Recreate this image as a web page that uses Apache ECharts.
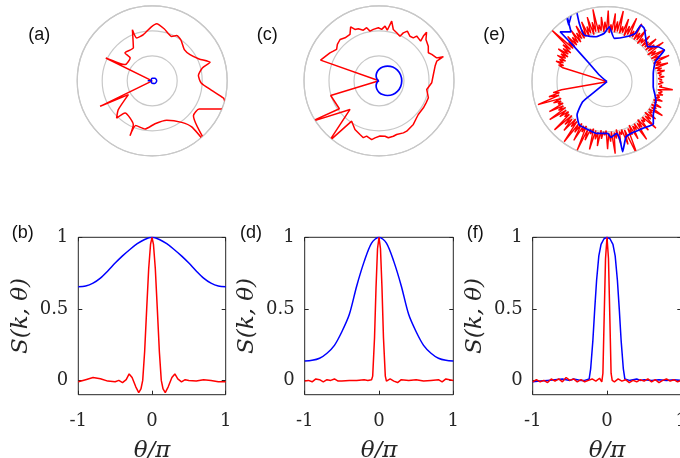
<!DOCTYPE html>
<html><head><meta charset="utf-8">
<script src="https://cdn.jsdelivr.net/npm/echarts@6/dist/echarts.min.js"></script>
<style>html,body{margin:0;padding:0;background:#fff}#c{width:680px;height:458px}</style>
</head><body><div id="c"></div>
<script>
// ---- tick labels / rings ----
const xTicks = [-1, 0, 1];
const yTicks = [0, 0.5, 1];
const ringValues = [1, 2, 3];
const panelLabels = ['(a)', '(b)', '(c)', '(d)', '(e)', '(f)'];

// ---- polar panels: [radius, angle in degrees] ----
const aRed = [[0,-180],[2.32,-153.9],[1.10,-149.9],[1.78,-139.6],[2.06,-133.7],[1.68,-130.2],[1.91,-113.3],[2.37,-112],[1.91,-110.2],[1.95,-98.5],[1.72,-86.2],[1.68,-69.8],[2.04,-54.6],[2.43,-49.4],[3.45,-49.4],[2.16,-40.2],[2.19,-31],[3.0,-22.1],[3.05,-16.9],[2.93,-13.6],[2.41,-9.1],[1.96,-2.5],[1.86,6.4],[2.07,14.3],[2.43,17.7],[2.07,25],[1.84,34.7],[1.79,44.1],[1.99,54.6],[2.06,61.5],[1.94,66.3],[2.13,76.8],[2.29,85.5],[2.15,91.2],[1.88,100.8],[1.82,109.9],[2.19,111.2],[1.52,119.7],[1.56,134.3],[1.27,134],[1.26,149],[2.07,153.8],[0,180]];
const aBlue = [[0.18,-180],[0.03,-179],[0.05,-135],[0.10,-90],[0.15,-45],[0.18,0],[0.15,45],[0.10,90],[0.05,135],[0.03,179],[0.18,180]];
const cRed = [[0,-180],[2.02,-163.1],[1.94,-144.8],[3.22,-149.1],[1.63,-135.3],[3.13,-129.5],[1.95,-124.1],[2.17,-116.3],[2.28,-109.5],[2.36,-105.4],[2.27,-102.6],[2.37,-97.1],[2.29,-94],[2.21,-89],[2.23,-83.8],[2.31,-80.7],[2.29,-75.5],[2.26,-71.8],[2.30,-64.9],[2.30,-61.2],[2.22,-51.8],[2.11,-44.5],[2.07,-40.6],[2.08,-31.3],[2.08,-25.1],[2.09,-19],[1.94,-10.3],[2.11,-2.2],[2.19,6.6],[2.32,14.7],[2.44,18.8],[2.75,20.5],[2.48,21.7],[2.36,26.6],[2.27,29.6],[2.41,35.1],[2.50,41.3],[2.72,45.6],[2.52,45.2],[2.30,43.6],[2.34,49.9],[2.20,51.4],[2.17,55.2],[2.29,60.3],[2.15,63.1],[1.97,64.8],[2.05,69.8],[2.13,74.4],[2.44,78],[2.05,80.7],[2.20,83.7],[2.06,87],[2.12,90.7],[2.07,96.3],[2.02,100.3],[2.18,103.1],[2.12,107.2],[2.24,111.7],[2.27,115.1],[2.44,117.7],[2.19,122],[2.19,128.3],[2.27,133.3],[2.21,138.9],[2.11,143.5],[2.18,147],[2.26,150.3],[2.48,160.5],[0,180]];
const cBlue = [[0,-180],[0.015,-165],[0.06,-150],[0.13,-135],[0.23,-120],[0.34,-105],[0.46,-90],[0.57,-75],[0.68,-60],[0.78,-45],[0.85,-30],[0.895,-15],[0.91,0],[0.895,15],[0.85,30],[0.78,45],[0.68,60],[0.57,75],[0.46,90],[0.34,105],[0.23,120],[0.13,135],[0.06,150],[0.015,165],[0,180]];
const eRed = [[0,-180],[1.85,-170],[2.2,-168.5],[1.95,-167],[2.4,-165.5],[2.0,-164],[2.91,-161.6],[1.95,-160],[2.3,-158.5],[2.0,-157],[2.15,-155.5],[1.95,-154],[2.6,-152.5],[2.0,-151],[2.25,-149.5],[1.95,-148],[2.75,-146.5],[2.0,-145],[2.35,-143.5],[1.95,-142],[2.2,-140.5],[2.0,-139],[2.85,-137.5],[1.95,-136],[2.4,-134.5],[2.05,-133],[2.6,-131.5],[1.95,-130],[2.3,-128.5],[2.0,-127],[2.95,-125.5],[2.05,-124],[2.4,-122.5],[1.95,-121],[2.7,-119.5],[2.0,-118],[2.25,-116.5],[1.95,-115],[3.0,-113.5],[2.05,-112],[2.5,-110.5],[2.0,-109],[2.2,-107.5],[1.95,-106],[2.8,-104.5],[2.0,-103],[2.35,-101.5],[2.05,-100],[2.6,-98.5],[1.95,-97],[2.3,-95.5],[2.0,-94],[2.15,-92.5],[1.95,-91],[2.7,-89.5],[2.05,-88],[2.4,-86.5],[2.0,-85],[2.9,-83.5],[2.05,-82],[2.3,-80.5],[1.95,-79],[2.55,-77.5],[2.05,-76],[2.2,-74.5],[2.0,-73],[2.65,-71.5],[2.05,-70],[3.25,-67.5],[2.05,-66],[2.35,-64.5],[1.95,-63],[2.6,-61.5],[2.05,-60],[2.25,-58.5],[2.0,-57],[2.8,-55.5],[2.05,-54],[2.3,-52.5],[1.95,-51],[2.55,-49.5],[2.05,-48],[2.2,-46.5],[2.0,-45],[2.7,-43.5],[2.05,-42],[2.3,-40.5],[1.95,-39],[2.45,-37.5],[2.05,-36],[2.2,-34.5],[2.0,-33],[2.6,-31.5],[2.05,-30],[2.25,-28.5],[2.0,-27],[2.4,-25.5],[2.05,-24],[2.15,-22.5],[2.0,-21],[2.35,-19.5],[2.05,-18],[2.2,-16.5],[2.05,-15],[2.3,-13.5],[2.1,-12],[2.25,-10.5],[2.05,-9],[2.65,-7],[2.1,-5.5],[2.2,-4],[2.05,-2.5],[2.25,-1],[2.1,0.5],[2.2,2],[2.05,3.5],[2.3,5],[2.1,6.5],[2.2,8],[2.05,9.5],[2.35,11],[2.05,12.5],[2.25,14],[2.0,15.5],[2.55,17],[2.05,18.5],[2.3,20],[2.0,21.5],[2.7,23],[2.05,24.5],[2.35,26],[2.0,27.5],[2.65,29],[2.05,30.5],[2.3,32],[1.95,33.5],[2.75,35],[2.05,36.5],[2.4,38],[2.0,39.5],[2.6,41],[2.05,42.5],[2.3,44],[2.0,45.5],[2.5,47],[2.05,48.5],[2.25,50],[1.95,51.5],[2.6,53],[2.05,54.5],[2.35,56],[2.0,57.5],[2.7,59],[2.05,60.5],[2.3,62],[2.0,63.5],[2.8,65],[2.05,66.5],[2.4,68],[1.95,69.5],[2.65,71],[2.05,72.5],[2.3,74],[2.0,75.5],[2.9,77],[2.05,78.5],[2.45,80],[2.0,81.5],[2.75,83],[2.05,84.5],[2.3,86],[1.95,87.5],[2.85,89],[2.05,90.5],[2.4,92],[2.0,93.5],[2.6,95],[2.05,96.5],[2.3,98],[2.0,99.5],[2.95,101],[2.05,102.5],[2.45,104],[1.95,105.5],[2.7,107],[2.05,108.5],[2.35,110],[1.95,111.5],[2.6,113],[2.0,114.5],[2.3,116],[1.95,117.5],[2.55,119],[2.0,120.5],[2.3,122],[1.9,123.5],[2.5,125],[1.95,126.5],[2.25,128],[1.9,129.5],[2.4,131],[1.9,132.5],[2.2,134],[1.9,135.5],[3.04,137],[1.95,138.5],[2.3,140],[1.85,141.5],[2.2,143],[1.9,144.5],[2.35,146],[1.85,147.5],[2.15,149],[1.9,150.5],[2.25,152],[1.85,153.5],[2.1,155],[1.9,156.5],[2.2,158],[1.85,159.5],[2.05,161],[1.85,162.5],[1.82,164.7],[0,180]];
const eBlue = [[0,-180],[0.74,-140.9],[1.26,-140.6],[1.79,-132],[2.06,-122.6],[2.06,-112.1],[2.11,-102],[2.07,-89.3],[2.23,-85.9],[2.10,-79.4],[2.39,-77.4],[2.87,-77.4],[2.33,-70.9],[2.28,-63.3],[2.35,-52.6],[2.51,-42.4],[2.28,-35.7],[2.09,-20.5],[1.86,-6.2],[1.88,10.2],[2.09,22.5],[2.62,28.9],[2.46,34.6],[2.15,40.7],[2.60,55],[2.64,59],[2.24,59.6],[1.95,67.1],[1.76,80.4],[2.20,87.6],[1.94,93.2],[1.85,103.7],[2.07,115.9],[2.58,115.4],[3.42,112.5],[2.74,124.1],[3.25,120.4],[2.46,125.8],[2.74,133.2],[2.01,133.1],[1.11,134],[0.41,139],[0,180]];

// ---- line panels: [theta/pi, S] ----
const bBlue = [[-1,0.655],[-0.9,0.66],[-0.8,0.68],[-0.7,0.715],[-0.6,0.765],[-0.5,0.82],[-0.4,0.87],[-0.3,0.915],[-0.2,0.955],[-0.1,0.985],[0,1],[0.1,0.985],[0.2,0.955],[0.3,0.915],[0.4,0.87],[0.5,0.82],[0.6,0.765],[0.7,0.715],[0.8,0.68],[0.9,0.66],[1,0.655]];
const bRed = [[-1,-0.01],[-0.9,0.005],[-0.8,0.02],[-0.7,0.012],[-0.6,-0.005],[-0.5,-0.01],[-0.45,0],[-0.4,-0.015],[-0.35,0.005],[-0.31,0.045],[-0.27,0.02],[-0.22,-0.045],[-0.18,-0.085],[-0.15,-0.06],[-0.126,0],[-0.1,0.2],[-0.072,0.5],[-0.045,0.78],[-0.02,0.95],[0,1],[0.02,0.95],[0.045,0.78],[0.072,0.5],[0.1,0.2],[0.126,0],[0.15,-0.06],[0.18,-0.085],[0.22,-0.045],[0.27,0.02],[0.31,0.045],[0.35,0.01],[0.4,-0.01],[0.45,0.005],[0.5,0],[0.6,-0.005],[0.7,0.005],[0.8,0],[0.9,-0.01],[1,-0.01]];
const dBlue = [[-1,0.135],[-0.9,0.14],[-0.8,0.155],[-0.7,0.19],[-0.6,0.245],[-0.5,0.34],[-0.4,0.46],[-0.3,0.66],[-0.2,0.83],[-0.1,0.96],[0,1],[0.1,0.96],[0.2,0.83],[0.3,0.66],[0.4,0.46],[0.5,0.34],[0.6,0.245],[0.7,0.19],[0.8,0.155],[0.9,0.14],[1,0.135]];
const dRed = [[-1,-0.005],[-0.95,0],[-0.9,-0.01],[-0.85,0.01],[-0.8,0.005],[-0.75,-0.01],[-0.7,0.005],[-0.65,0],[-0.6,0.01],[-0.55,-0.005],[-0.5,-0.005],[-0.4,0],[-0.3,0],[-0.2,0.005],[-0.15,0],[-0.1,0.005],[-0.085,0.03],[-0.06,0.3],[-0.04,0.65],[-0.02,0.92],[0,1],[0.02,0.92],[0.04,0.65],[0.06,0.3],[0.085,0.03],[0.1,-0.005],[0.15,0.01],[0.2,-0.005],[0.25,-0.015],[0.3,0.005],[0.4,0],[0.5,0.005],[0.6,-0.005],[0.7,0],[0.8,0.005],[0.85,-0.01],[0.9,0.01],[1,0]];
const fBlue = [[-1,-0.01],[-0.9,-0.005],[-0.8,0],[-0.7,0.005],[-0.6,0.01],[-0.5,0],[-0.45,0.01],[-0.4,0.005],[-0.35,0],[-0.3,0],[-0.24,0.01],[-0.22,0.08],[-0.19,0.28],[-0.165,0.5],[-0.14,0.7],[-0.11,0.87],[-0.08,0.95],[-0.04,0.99],[0,1],[0.04,0.99],[0.08,0.95],[0.11,0.87],[0.14,0.7],[0.165,0.5],[0.19,0.28],[0.22,0.08],[0.24,0.01],[0.3,0],[0.35,0.005],[0.4,0.01],[0.45,0],[0.5,0.005],[0.6,0],[0.7,0.005],[0.8,0],[0.9,0.005],[1,0]];
const fRed = [[-1,-0.01],[-0.95,0.005],[-0.9,-0.01],[-0.85,0],[-0.8,-0.015],[-0.75,0.01],[-0.7,-0.005],[-0.65,0.01],[-0.6,-0.01],[-0.55,0.02],[-0.5,0],[-0.45,0.01],[-0.4,-0.01],[-0.35,0.005],[-0.3,-0.01],[-0.25,0],[-0.2,0.01],[-0.15,-0.005],[-0.1,0.015],[-0.07,-0.01],[-0.055,0.05],[-0.04,0.4],[-0.02,0.85],[0,1],[0.02,0.85],[0.04,0.4],[0.055,0.05],[0.07,0],[0.1,-0.01],[0.15,0.01],[0.2,-0.005],[0.25,0.005],[0.3,-0.015],[0.35,0],[0.4,-0.01],[0.45,0.005],[0.5,-0.005],[0.55,0.01],[0.6,-0.01],[0.65,0.005],[0.7,-0.015],[0.75,0],[0.8,0.01],[0.85,-0.005],[0.9,0.005],[0.95,-0.01],[1,0]];

const RED = '#ff0000', BLUE = '#0000ff', GRAY = '#c8c8c8', AX = '#262626';
const SERIF = 'DejaVu Serif';

const polarCenters = [[152.2, 80.8], [379, 80.8], [607, 81.7]];
const gridBoxes = [
  {left: 78.3, top: 237.3, width: 147.4, height: 157.4},
  {left: 304.7, top: 237.3, width: 148.6, height: 157.4},
  {left: 532.7, top: 237.3, width: 148.6, height: 157.4}
];
const labelPos = [[28.3,35],[11.7,233],[256.7,35],[240,233],[483.3,35],[466.7,233]];

const tickStyle = {inside: true, length: 4, lineStyle: {color: AX, width: 1}};
const noLine = {show: false, onZero: false};
const xAxes = [], yAxes = [], angleAxes = [], radiusAxes = [];
for (let i = 0; i < 3; i++) {
  xAxes.push({gridIndex: i, type: 'value', min: -1, max: 1, interval: 1, position: 'bottom',
    axisLine: noLine, axisTick: tickStyle,
    axisLabel: {fontFamily: SERIF, fontSize: 18, color: AX, margin: 18, hideOverlap: false},
    splitLine: {show: false},
    name: 'θ/π', nameLocation: 'middle', nameGap: 45,
    nameTextStyle: {fontFamily: SERIF, fontStyle: 'italic', fontSize: 23, color: AX}});
  xAxes.push({gridIndex: i, type: 'value', min: -1, max: 1, interval: 1, position: 'top',
    axisLine: noLine, axisTick: tickStyle,
    axisLabel: {show: false}, splitLine: {show: false}});
  yAxes.push({gridIndex: i, type: 'value', min: -0.1, max: 1, position: 'left',
    axisLine: noLine,
    axisTick: Object.assign({customValues: yTicks}, tickStyle),
    axisLabel: {customValues: yTicks, fontFamily: SERIF, fontSize: 18, color: AX, margin: 10},
    splitLine: {show: false},
    name: 'S(k, θ)', nameLocation: 'middle', nameGap: 46, nameRotate: 90,
    nameTextStyle: {fontFamily: SERIF, fontStyle: 'italic', fontSize: 23, color: AX}});
  yAxes.push({gridIndex: i, type: 'value', min: -0.1, max: 1, position: 'right',
    axisLine: noLine,
    axisTick: Object.assign({customValues: yTicks}, tickStyle),
    axisLabel: {show: false}, splitLine: {show: false}});
  angleAxes.push({polarIndex: i, type: 'value', min: -180, max: 180, startAngle: 180, clockwise: false,
    axisLine: {show: true, lineStyle: {color: GRAY, width: 1.2}},
    axisTick: {show: false}, axisLabel: {show: false}, splitLine: {show: false}});
  radiusAxes.push({polarIndex: i, type: 'value', min: 0, max: ringValues[ringValues.length-1], interval: 1,
    axisLine: {show: false}, axisTick: {show: false}, axisLabel: {show: false},
    splitLine: {show: true, lineStyle: {color: GRAY, width: 1.2}}});
}

function pLine(idx, data, color, w, z, smooth) {
  return {type: 'line', coordinateSystem: 'polar', polarIndex: idx, data: data, symbol: 'none',
    showSymbol: false, clip: false, smooth: smooth || false, lineStyle: {color: color, width: w}, z: z, silent: true};
}
function cLine(idx, data, color, w, z, smooth) {
  return {type: 'line', xAxisIndex: 2*idx, yAxisIndex: 2*idx, data: data, symbol: 'none',
    showSymbol: false, smooth: smooth || false, lineStyle: {color: color, width: w}, z: z, silent: true};
}

const chart = echarts.init(document.getElementById('c'));
chart.setOption({
  animation: false,
  backgroundColor: '#fff',
  polar: polarCenters.map(c => ({center: c, radius: 75})),
  angleAxis: angleAxes,
  radiusAxis: radiusAxes,
  grid: gridBoxes.map(g => Object.assign({containLabel: false, outerBoundsMode: 'none', show: true, borderColor: AX, borderWidth: 1, backgroundColor: 'transparent'}, g)),
  xAxis: xAxes,
  yAxis: yAxes,
  graphic: panelLabels.map((t, i) => ({type: 'text', x: labelPos[i][0], y: labelPos[i][1],
    style: {text: t, fontSize: 18, fontFamily: 'Liberation Sans', fill: '#111', verticalAlign: 'middle'}})),
  series: [
    pLine(0, aRed, RED, 1.5, 3, 0.2), pLine(0, aBlue, BLUE, 1.5, 4, 0.3),
    pLine(1, cRed, RED, 1.5, 3), pLine(1, cBlue, BLUE, 1.7, 4, 0.3),
    pLine(2, eRed, RED, 1.4, 3), pLine(2, eBlue, BLUE, 1.7, 4, 0.15),
    cLine(0, bBlue, BLUE, 1.5, 3, 0.3), cLine(0, bRed, RED, 1.5, 4),
    cLine(1, dBlue, BLUE, 1.5, 3, 0.3), cLine(1, dRed, RED, 1.5, 4),
    cLine(2, fBlue, BLUE, 1.5, 3), cLine(2, fRed, RED, 1.5, 4)
  ]
});
</script></body></html>
